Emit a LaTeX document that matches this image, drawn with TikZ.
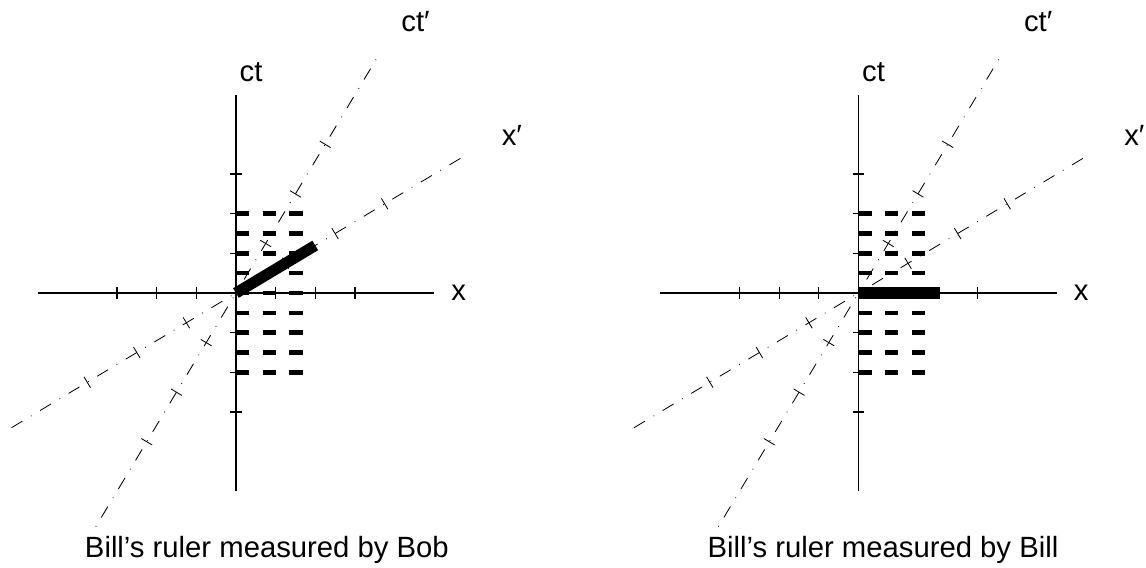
\documentclass[tikz,border=0pt]{standalone}
\usepackage{fontspec}
\setmainfont{Liberation Sans}
\tikzset{every picture/.style={line width=0.75pt}}
\tikzset{
  axis/.style={line width=0.9pt},
  tickmark/.style={line width=0.6pt},
  primeaxis/.style={line width=0.6pt, dash pattern=on 0.32cm off 0.25cm on 0.02cm off 0.25cm, dash phase=0.44cm},
  rowdash/.style={line width=3.2pt, dash pattern=on 0.33cm off 0.345cm},
  ruler/.style={line width=0.28cm},
  lbl/.style={inner sep=0pt, anchor=base west, font=\fontsize{21}{25}\selectfont},
}

\begin{document}
\begin{tikzpicture}
    \useasboundingbox (-5.95,-6.91) rectangle (22.95,7.39);
    \foreach \dx/\who in {0/Bob, 15.7/Bill} {
    \begin{scope}[xshift=\dx cm]
        % rows of the ruler
        \foreach \t in {-2,-1.5,...,2}
            \draw[rowdash] (0,\t) -- (1.7,\t);
        % rest frame
        \draw[axis] (-5,0) -- (5,0);
        \draw[axis] (0,-5) -- (0,5);
        \foreach \k in {-3,-2,-1,1,2,3} {
            \draw[axis] (\k,-0.15) -- (\k,0.15);
            \draw[axis] (-0.15,\k) -- (0.15,\k);
        }
        % moving frame, v = 0.6c
        \draw[primeaxis] (0,0) -- (3.6,6);
        \draw[primeaxis] (0,0) -- (-3.6,-6);
        \draw[primeaxis] (0,0) -- (5.75,3.45);
        \draw[primeaxis] (0,0) -- (-5.75,-3.45);
        \foreach \k in {-3,-2,-1,1,2,3} {
            \draw[tickmark] ({0.75*\k+0.137},{1.25*\k-0.082}) -- ({0.75*\k-0.137},{1.25*\k+0.082});
            \draw[tickmark] ({1.25*\k-0.082},{0.75*\k+0.137}) -- ({1.25*\k+0.082},{0.75*\k-0.137});
        }
        \node[lbl] (ct-\who) at (0.08,5.33) {ct};
        \node[lbl] (ctp-\who) at (4.16,6.59) {ct′};
        \node[lbl] (x-\who) at (5.42,-0.18) {x};
        \node[lbl] (xp-\who) at (6.69,3.71) {x′};
        \node[lbl] (cap-\who) at (-3.82,-6.68) {Bill’s ruler measured by \who};
    \end{scope}
    }
    % the ruler itself
    \draw[ruler] (0,0) -- (2,1.2);
    \draw[ruler] (15.7,0) -- (17.75,0);
\end{tikzpicture}
\end{document}
